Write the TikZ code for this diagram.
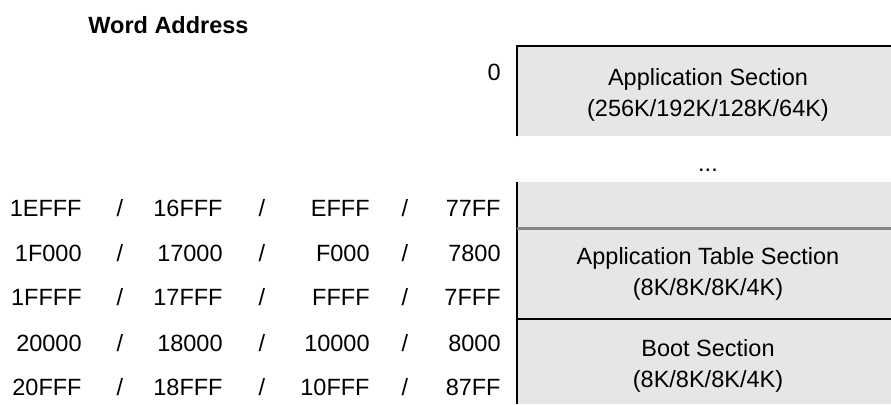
\documentclass[tikz,border=0pt]{standalone}
\usepackage{fontspec}
\setmainfont{Liberation Sans}
\usetikzlibrary{positioning}
\definecolor{secfill}{HTML}{E6E6E6}
\definecolor{sepgray}{HTML}{858585}
\tikzset{sect/.style={rectangle,fill=secfill,minimum width=191pt,inner sep=0pt},
  secname/.style={inner sep=0pt,align=center,font=\fontsize{11.75}{15.5}\selectfont},
  addr/.style={anchor=east,inner sep=0pt,font=\fontsize{11.75}{14}\selectfont},
  slash/.style={inner sep=0pt,font=\fontsize{11.75}{14}\selectfont},
  edge/.style={line width=1pt,black},
  softedge/.style={line width=1.3pt,sepgray}}

\begin{document}
\begin{tikzpicture}[x=0.5pt,y=-0.5pt]
    \useasboundingbox (0,0) rectangle (891,404);

    % sections
    \node[sect,minimum height=45pt] (app)at (708,91) {};
    \node[sect,minimum height=23pt] (tail)at (708,205) {};
    \node[sect,minimum height=45.5pt] (tab)at (708,273.5) {};
    \node[sect,minimum height=42.5pt] (boot)at (708,361.5) {};

    \node[secname] (appname)at ([yshift=-2pt]app.center) {Application Section\\(256K/192K/128K/64K)};
    \node[secname] (tabname)at (tab.center) {Application Table Section\\(8K/8K/8K/4K)};
    \node[secname] (bootname)at ([yshift=-2pt]boot.center) {Boot Section\\(8K/8K/8K/4K)};
    \node[slash] (dots)at (708,170) {...};

    \draw [edge] (app.south west) -- (app.north west) -- (app.north east);
    \draw [edge] (tail.north west) -- (boot.south west);
    \draw [softedge] (tail.south west) -- (tail.south east);
    \draw [edge] (boot.north west) -- (boot.north east);

    % addresses
    \node[anchor=west,inner sep=0pt,font=\fontsize{11.75}{14}\selectfont\bfseries] (title)at (88,25) {Word Address};
    \node[addr] (zero)at (501,72) {0};
    \foreach \r/\y/\a/\b/\c/\d in {1/208/1EFFF/16FFF/EFFF/77FF,2/253/1F000/17000/F000/7800,
        3/297/1FFFF/17FFF/FFFF/7FFF,4/343/20000/18000/10000/8000,5/387/20FFF/18FFF/10FFF/87FF}{
      \node[addr] (a\r)at (82,\y) {\a};
      \node[slash] (s\r a)at (120,\y) {/};
      \node[addr] (b\r)at (223,\y) {\b};
      \node[slash] (s\r b)at (262,\y) {/};
      \node[addr] (c\r)at (370,\y) {\c};
      \node[slash] (s\r c)at (405,\y) {/};
      \node[addr] (d\r)at (501,\y) {\d};
    }
\end{tikzpicture}
\end{document}
